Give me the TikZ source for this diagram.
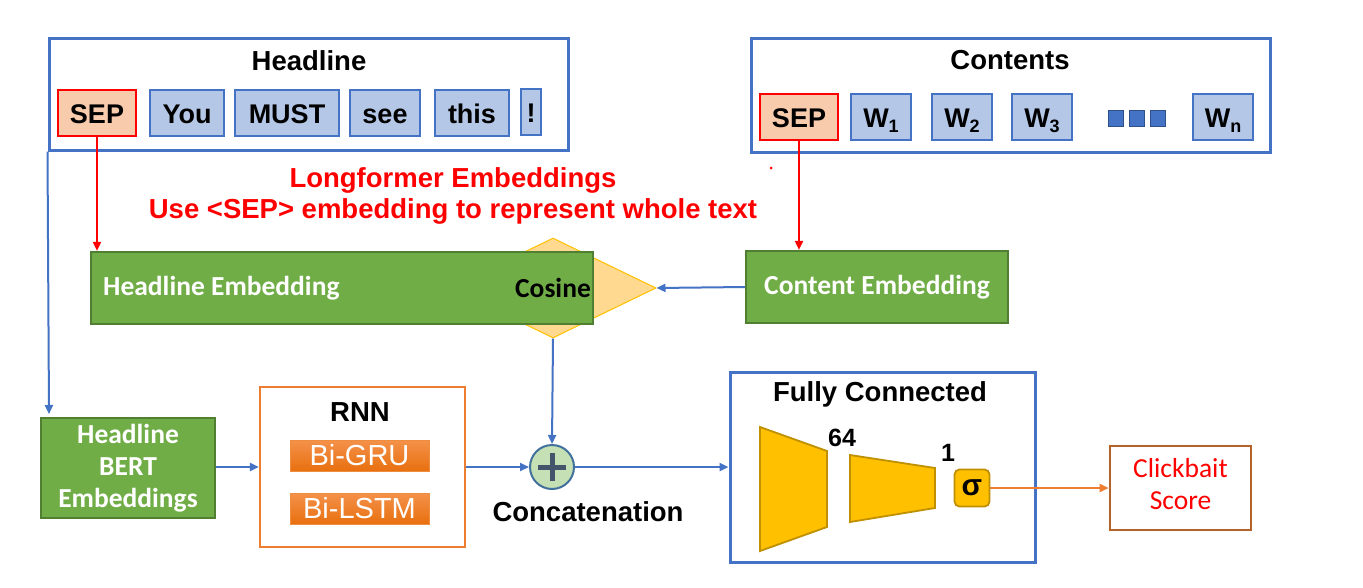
\documentclass[tikz,border=0pt]{standalone}
\usepackage{fontspec}
\setmainfont{Liberation Sans}
\newfontfamily\calfont{Carlito}
\usetikzlibrary{arrows.meta,shapes.geometric}
\definecolor{bblue}{HTML}{4472C4}
\definecolor{tokfill}{HTML}{B4C7E7}
\definecolor{sepfill}{HTML}{F8CBAD}
\definecolor{ggreen}{HTML}{70AD47}
\definecolor{gborder}{HTML}{507E32}
\definecolor{cosfill}{HTML}{FFD98F}
\definecolor{cosborder}{HTML}{FFC000}
\definecolor{rnnor}{HTML}{ED7D31}
\definecolor{gruTop}{HTML}{F4914A}
\definecolor{gruBot}{HTML}{E8700F}
\definecolor{circfill}{HTML}{C5E0B4}
\definecolor{circborder}{HTML}{41719C}
\definecolor{plusc}{HTML}{44546A}
\definecolor{fcfill}{HTML}{FFC000}
\definecolor{fcborder}{HTML}{BF9000}
\definecolor{clickb}{HTML}{B5622B}
\newcommand\fTitle{\fontsize{27.5}{32}\selectfont\bfseries}
\newcommand\fTok{\fontsize{27}{31}\selectfont\bfseries}
\newcommand\fCal{\fontsize{27.5}{32}\selectfont\calfont\bfseries}
\begin{document}
\begin{tikzpicture}[x=1pt,y=-1pt,
  outerbox/.style={draw=bblue, line width=3pt, inner sep=0pt},
  tok/.style={draw=bblue, line width=2.6pt, fill=tokfill, inner sep=0pt, minimum height=46pt, text height=20pt, text depth=0pt, font=\fTok},
  septok/.style={tok, draw=red, fill=sepfill},
  sq/.style={draw=bblue!70!black, line width=0.8pt, fill=bblue, inner sep=0pt, minimum width=15pt, minimum height=16pt},
  gbox/.style={draw=gborder, fill=ggreen, line width=2.2pt, inner sep=0pt, text=white, font=\fCal},
  lbl/.style={inner sep=0pt, font=\fTitle},
  barrow/.style={draw=bblue, line width=2pt, -{Triangle[length=9pt,width=8pt]}},
  rarrow/.style={draw=red, line width=1.8pt, -{Triangle[length=9pt,width=8pt]}},
  oarrow/.style={draw=rnnor, line width=2pt, -{Triangle[length=9pt,width=8pt]}},
  rnnbox/.style={draw=rnnor, line width=2.2pt, inner sep=0pt},
  grubox/.style={top color=gruTop, bottom color=gruBot, draw=gruBot!80!white, line width=0.6pt, inner sep=0pt, minimum width=139pt, minimum height=31pt, text=white, font=\fontsize{29}{32}\selectfont},
  trap/.style={fill=fcfill, draw=fcborder, line width=1.8pt, line join=miter}
]
\useasboundingbox (0,0) rectangle (1363,587);
\fill[white] (0,0) rectangle (1363,587);

% Headline box
\node[outerbox, minimum width=519pt, minimum height=112pt] (hbox) at (308.5,94) {};
\node[lbl] (htitle) at (309,61) {Headline};
\node[septok, minimum width=78pt] (hsep) at (97,113) {SEP};
\node[tok, minimum width=74pt] (you) at (187,113) {You};
\node[tok, minimum width=104pt] (must) at (287,113) {MUST};
\node[tok, minimum width=70pt] (see) at (385,113) {see};
\node[tok, minimum width=74pt] (this) at (472,113) {this};
\node[tok, minimum width=20pt] (excl) at (531,112) {!};

% Contents box
\node[outerbox, minimum width=519pt, minimum height=114pt] (cbox) at (1010.5,95) {};
\node[lbl] (ctitle) at (1010,60) {Contents};
\node[septok, minimum width=78pt] (csep) at (799,117) {SEP};
\node[tok, minimum width=60pt] (w1) at (881,117) {W\raisebox{-5pt}{\fontsize{18}{18}\selectfont 1}};
\node[tok, minimum width=60pt] (w2) at (962,117) {W\raisebox{-5pt}{\fontsize{18}{18}\selectfont 2}};
\node[tok, minimum width=60pt] (w3) at (1042,117) {W\raisebox{-5pt}{\fontsize{18}{18}\selectfont 3}};
\node[sq] (sq1) at (1116,118) {};
\node[sq] (sq2) at (1137,118) {};
\node[sq] (sq3) at (1158,118) {};
\node[tok, minimum width=60pt] (wn) at (1223,117) {W\raisebox{-5pt}{\fontsize{18}{18}\selectfont n}};

% red text
\node[inner sep=0pt, text=red, align=center, font=\fontsize{27.5}{31}\selectfont\bfseries] (lf) at (453,196) {Longformer Embeddings\\Use <SEP> embedding to represent whole text};
\fill[red] (771,168) circle (1.5pt);

% cosine diamond and embeddings
\node[diamond, draw=cosborder, fill=cosfill, line width=1pt, minimum width=206pt, minimum height=100pt, inner sep=0pt] (cos) at (553,288) {};
\node[gbox, minimum width=502pt, minimum height=72pt] (hemb) at (342,288) {};
\node[anchor=west, inner sep=0pt, text=white, font=\fCal] (hembl) at (103,288) {Headline Embedding};
\node[inner sep=0pt, font=\fCal] (cosl) at (553,288) {Cosine};
\node[gbox, minimum width=262pt, minimum height=72pt] (cemb) at (877,287) {Content Embedding};

\draw[rarrow] (hsep.south) -- (hsep.south |- hemb.north);
\draw[rarrow] (csep.south) -- (csep.south |- cemb.north);
\draw[barrow] (cemb.west) -- (cos.east);

% lower row
\node[gbox, minimum width=174pt, minimum height=100pt, align=center, font=\fontsize{27.5}{32}\selectfont\calfont\bfseries] (bert) at (128,468) {Headline\\BERT\\Embeddings};
\coordinate (hdrop) at (49,414);
\draw[barrow] (hbox.south west) -- (hdrop);

\node[rnnbox, minimum width=205pt, minimum height=160pt] (rnn) at (362.5,467) {};
\node[lbl] (rnnl) at (360,412) {RNN};
\node[grubox] (gru) at (359.5,455.5) {Bi-GRU};
\node[grubox] (lstm) at (359.5,508.5) {Bi-LSTM};
\draw[barrow] (bert.east |- 0,467) -- (rnn.west |- 0,467);

\node[circle, draw=circborder, fill=circfill, line width=2pt, minimum size=44pt, inner sep=0pt] (plus) at (552,467) {};
\fill[plusc] (538,464.5) rectangle (566,469.5);
\fill[plusc] (549.5,453) rectangle (554.5,481);
\node[lbl] (concat) at (588,512) {Concatenation};
\draw[barrow] (rnn.east |- 0,467) -- (plus.west);
\draw[barrow] (cos.south) -- (plus.north);

\node[outerbox, minimum width=305pt, minimum height=190pt] (fc) at (882.5,467) {};
\node[lbl] (fcl) at (880,394) {Fully Connected};
\draw[barrow, line width=2.6pt] (plus.east) -- (fc.west);
\draw[trap] (760,427) -- (827,451) -- (827,527) -- (760,551) -- cycle;
\draw[trap] (850,455) -- (935,468) -- (935,508) -- (850,522) -- cycle;
\node[inner sep=0pt, font=\fontsize{25}{28}\selectfont\bfseries] (n64) at (842,438) {64};
\node[inner sep=0pt, font=\fontsize{25}{28}\selectfont\bfseries] (n1) at (948,453) {1};
\node[draw=fcborder, fill=fcfill, line width=1.8pt, rounded corners=5pt, minimum width=35pt, minimum height=37pt, inner sep=0pt, font=\fontsize{30}{32}\selectfont\bfseries] (sig) at (972,488) {σ};

\node[draw=clickb, line width=2.6pt, minimum width=141pt, minimum height=84pt, inner sep=0pt] (click) at (1180.5,488) {};
\node[inner sep=0pt, align=center, text=red, font=\fontsize{27.5}{32}\selectfont\calfont] (clickl) at (1180.5,484.5) {Clickbait\\Score};
\draw[oarrow] (sig.east) -- (click.west |- sig.east);
\end{tikzpicture}
\end{document}
